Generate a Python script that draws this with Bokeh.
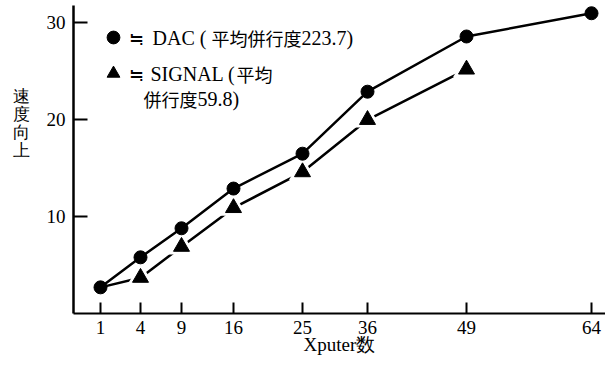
from bokeh.plotting import figure
from bokeh.models import FixedTicker, Legend, LegendItem, Label, Range1d
from bokeh.embed import file_html
from bokeh.resources import INLINE

# X categories (number of Xputers) and their positions on the hand-drawn, non-uniform axis
xputers = ["1", "4", "9", "16", "25", "36", "49", "64"]
axis_pos = [27, 67, 108, 160, 229, 294, 393, 518]

# Speed-up values
dac = [2.7, 5.8, 8.8, 12.9, 16.5, 22.9, 28.6, 31.0]
signal_x = ["1", "4", "9", "16", "25", "36", "49"]
signal = [2.7, 3.7, 6.9, 10.9, 14.6, 20.0, 25.2]

y_ticks = [10, 20, 30]

SERIF = "Liberation Serif"
CJK = "Noto Sans CJK JP"
pos = dict(zip(xputers, axis_pos))
dac_x = [pos[c] for c in xputers]
sig_x = [pos[c] for c in signal_x]

p = figure(width=605, height=359, output_backend="svg", toolbar_location=None,
           x_range=Range1d(0, 532), y_range=Range1d(0, 31.8))
p.min_border_left = 73
p.min_border_right = 0
p.min_border_top = 5
p.min_border_bottom = 46
p.outline_line_color = None
p.xgrid.visible = False
p.ygrid.visible = False
p.background_fill_color = "white"
p.border_fill_color = "white"

# axes
xa = p.xaxis[0]
xa.ticker = FixedTicker(ticks=axis_pos)
xa.major_label_overrides = {pv: lab for pv, lab in zip(axis_pos, xputers)}
xa.major_tick_in = 11
xa.major_tick_out = 0
xa.minor_tick_line_color = None
xa.axis_line_width = 2
xa.major_tick_line_width = 2
xa.axis_line_color = "black"
xa.major_tick_line_color = "black"
xa.major_label_text_font = SERIF
xa.major_label_text_font_size = "19px"
xa.major_label_text_color = "black"
xa.major_label_standoff = 7
xa.axis_label = "Xputer数"
xa.axis_label_text_font = SERIF
xa.axis_label_text_font_size = "19px"
xa.axis_label_text_font_style = "normal"
xa.axis_label_text_color = "black"
xa.axis_label_standoff = -3

ya = p.yaxis[0]
ya.ticker = FixedTicker(ticks=y_ticks)
ya.major_tick_in = 14
ya.major_tick_out = 0
ya.minor_tick_line_color = None
ya.axis_line_width = 2.5
ya.major_tick_line_width = 2
ya.axis_line_color = "black"
ya.major_tick_line_color = "black"
ya.major_label_text_font = SERIF
ya.major_label_text_font_size = "19px"
ya.major_label_text_color = "black"
ya.major_label_standoff = 8
ya.axis_label = "速\n度\n向\n上\n　\n　\n　\n　"
ya.axis_label_text_font = SERIF
ya.axis_label_text_font_size = "17px"
ya.axis_label_text_font_style = "normal"
ya.axis_label_text_color = "black"
ya.axis_label_text_line_height = 0.95
ya.axis_label_standoff = 14
try:
    ya.axis_label_orientation = "horizontal"
except Exception:
    pass

# SIGNAL series: line with gaps around triangles
p.line(sig_x, signal, line_color="black", line_width=2.5)
p.scatter(sig_x[1:], signal[1:], marker="triangle", size=27, fill_color="white",
          line_color=None)
tri = p.scatter(sig_x[1:], signal[1:], marker="triangle", size=16, fill_color="black",
                line_color="black")

# DAC series
p.line(dac_x, dac, line_color="black", line_width=2.5)
circ = p.scatter(dac_x, dac, marker="circle", size=13, fill_color="black",
                 line_color="black")

legend = Legend(items=[
    LegendItem(label="≒", renderers=[circ]),
    LegendItem(label="≒", renderers=[tri]),
], location=(24, 222))
legend.glyph_width = 32
legend.glyph_height = 36
legend.label_standoff = 0
legend.padding = 0
legend.spacing = 0
legend.margin = 0
legend.border_line_color = None
legend.background_fill_alpha = 0
legend.label_text_font = CJK
legend.label_text_font_size = "18px"
legend.label_text_color = "black"
p.add_layout(legend)

def txt(x, y, s, font, size):
    p.add_layout(Label(x=x, y=y, x_units="screen", y_units="screen", text=s,
                       text_font=font, text_font_size=size, text_color="black",
                       text_baseline="middle", text_align="left"))

# legend texts (frame-relative screen positions)
txt(79, 276, "DAC (", SERIF, "20px")
txt(138, 276, "平均併行度", CJK, "18px")
txt(228, 276, "223.7)", SERIF, "20px")
txt(77, 240, "SIGNAL (", SERIF, "20px")
txt(163, 240, "平均", CJK, "18px")
txt(70, 215, "併行度", CJK, "18px")
txt(124, 215, "59.8)", SERIF, "20px")

open("out.html", "w").write(file_html(p, INLINE))
